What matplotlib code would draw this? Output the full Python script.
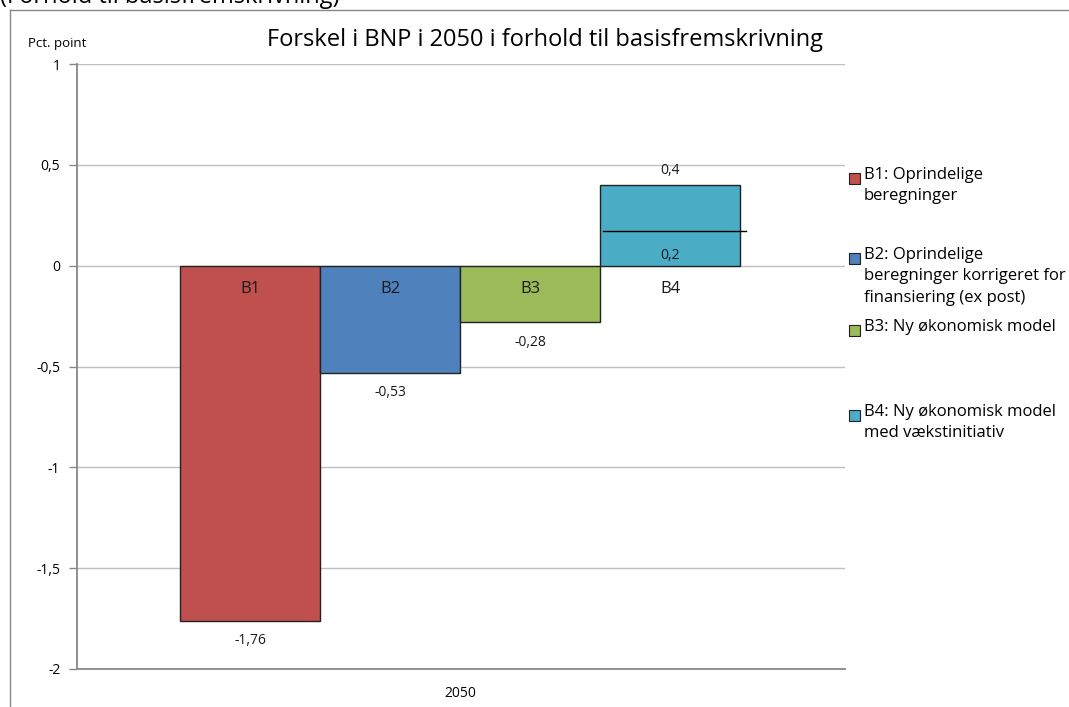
import matplotlib
matplotlib.use('Agg')
import matplotlib.pyplot as plt
from matplotlib.patches import Rectangle
from matplotlib.lines import Line2D

plt.rcParams['font.family'] = ['Liberation Sans Narrow', 'Open Sans', 'DejaVu Sans']

# data
names = ['B1', 'B2', 'B3', 'B4']
values = [-1.76, -0.53, -0.28, 0.4]
value_labels = ['-1,76', '-0,53', '-0,28', '0,4']
b4_marker = 0.17
b4_marker_label = '0,2'
colors = ['#C0504D', '#4F81BD', '#9BBB59', '#4BACC6']
legend_labels = [
    'B1: Oprindelige\nberegninger',
    'B2: Oprindelige\nberegninger korrigeret for\nfinansiering (ex post)',
    'B3: Ny økonomisk model',
    'B4: Ny økonomisk model\nmed vækstinitiativ',
]
yticks = [1, 0.5, 0, -0.5, -1, -1.5, -2]
ytick_labels = ['1', '0,5', '0', '-0,5', '-1', '-1,5', '-2']

fig = plt.figure(figsize=(10.69, 7.07), dpi=100)
ax = fig.add_axes([77 / 1069, 1 - 669 / 707, 768 / 1069, 605 / 707])

pos = list(range(len(values)))
ax.bar(pos, values, width=1.0, color=colors, edgecolor='#222222', linewidth=1.0, zorder=3)
ax.set_xlim(-1.236, 4.25)
ax.set_ylim(-2, 1)

# line across B4
ax.plot([pos[3] - 0.48, pos[3] + 0.54], [b4_marker, b4_marker], color='black', lw=1.0, zorder=4)

for p, v, nm, lab in zip(pos, values, names, value_labels):
    ax.text(p, -0.115, nm, ha='center', va='center', fontsize=12, color='#1a1a1a', zorder=5)
    if v < 0:
        ax.text(p, v - 0.1, lab, ha='center', va='center', fontsize=10, color='#1a1a1a', zorder=5)
    else:
        ax.text(p, v + 0.07, lab, ha='center', va='center', fontsize=10, color='#1a1a1a', zorder=5)
ax.text(pos[3], 0.05, b4_marker_label, ha='center', va='center', fontsize=10, color='#1a1a1a', zorder=5)

ax.set_yticks(yticks)
ax.set_yticklabels(ytick_labels, fontsize=10)
ax.grid(axis='y', color='#bfbfbf', lw=1.0, zorder=0)
ax.set_xticks([1.5])
ax.set_xticklabels(['2050'], fontsize=10)
ax.tick_params(axis='x', length=0, pad=12)
ax.tick_params(axis='y', length=6, color='#888888', width=1, pad=6)
for s in ['top', 'right']:
    ax.spines[s].set_visible(False)
ax.spines['left'].set_color('#888888')
ax.spines['bottom'].set_color('#888888')
ax.spines['left'].set_linewidth(1.3)
ax.spines['bottom'].set_linewidth(1.3)

fig.text(28 / 1069, 1 - 43 / 707, 'Pct. point', fontsize=9.5, va='center', ha='left')
fig.text(545 / 1069, 1 - 40 / 707, 'Forskel i BNP i 2050 i forhold til basisfremskrivning',
         fontsize=17, ha='center', va='center')
fig.text(0.0, 1 - (-3) / 707, '(Forhold til basisfremskrivning)', fontsize=17, ha='left', va='center')

# outer chart border
fig.add_artist(Line2D([10 / 1069, 10 / 1069], [0, 1 - 10 / 707], transform=fig.transFigure,
                      color='#888888', lw=1))
fig.add_artist(Line2D([10 / 1069, 1], [1 - 10 / 707, 1 - 10 / 707], transform=fig.transFigure,
                      color='#888888', lw=1))

# legend, placed like the original
legend_y = [178, 258, 330, 415]
for lab, y, c in zip(legend_labels, legend_y, colors):
    fig.patches.append(Rectangle((849 / 1069, 1 - (y + 6) / 707), 11 / 1069, 11 / 707,
                                 transform=fig.transFigure, facecolor=c,
                                 edgecolor='#222222', lw=0.8))
    fig.text(864 / 1069, 1 - (y - 11) / 707, lab, fontsize=12, ha='left', va='top', linespacing=1.45)

fig.savefig('out.png', dpi=100)
